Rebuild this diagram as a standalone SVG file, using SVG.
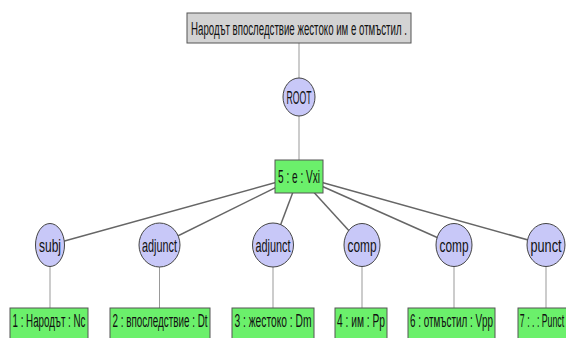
<svg xmlns="http://www.w3.org/2000/svg" width="566" height="338" viewBox="0 0 566 338">
<style>
text { font-family: "Liberation Sans", "DejaVu Sans", sans-serif; fill: #111; text-anchor: middle; font-size: 19px; }
.circ { fill: #c8c8f8; stroke: #444; stroke-width: 1; }
.word { fill: #6bf06b; stroke: #555; stroke-width: 1; }
.sent { fill: #d3d3d3; stroke: #555; stroke-width: 1; }
.dl { stroke: #666; stroke-width: 1.5; fill: none; }
.vl { stroke: #999; stroke-width: 1; fill: none; }
</style>
<rect width="566" height="338" fill="#ffffff"/>
<g id="connectors">
  <line class="vl" x1="299" y1="43" x2="299" y2="78"/>
  <line class="vl" x1="299" y1="116" x2="299" y2="160"/>
  <line class="dl" x1="299" y1="176" x2="50" y2="245"/>
  <line class="dl" x1="299" y1="176" x2="159.5" y2="245"/>
  <line class="dl" x1="299" y1="176" x2="273" y2="245"/>
  <line class="dl" x1="299" y1="176" x2="362" y2="245"/>
  <line class="dl" x1="299" y1="176" x2="454" y2="245"/>
  <line class="dl" x1="299" y1="176" x2="546" y2="245"/>
  <line class="vl" x1="50" y1="266" x2="50" y2="308"/>
  <line class="vl" x1="159.5" y1="266" x2="159.5" y2="308"/>
  <line class="vl" x1="273" y1="266" x2="273" y2="308"/>
  <line class="vl" x1="362" y1="266" x2="362" y2="308"/>
  <line class="vl" x1="454" y1="266" x2="454" y2="308"/>
  <line class="vl" x1="546" y1="266" x2="546" y2="308"/>
</g>
<g id="sentence">
  <rect class="sent" x="187" y="13" width="224" height="30"/>
  <text transform="translate(299,35) scale(0.514,1)" x="0" y="0" textLength="420" lengthAdjust="spacingAndGlyphs">Народът впоследствие жестоко им е отмъстил .</text>
</g>
<g id="root">
  <ellipse class="circ" cx="299" cy="97" rx="16" ry="19"/>
  <text transform="translate(299,103.5) scale(0.455,1)" x="0" y="0" textLength="55" lengthAdjust="spacingAndGlyphs">ROOT</text>
</g>
<g id="n5">
  <rect class="word" x="275" y="160" width="48" height="33"/>
  <text transform="translate(299,183) scale(0.53,1)" x="0" y="0" textLength="79.2" lengthAdjust="spacingAndGlyphs">5 : е : Vxi</text>
</g>
<g id="r1">
  <ellipse class="circ" cx="50" cy="245" rx="14.5" ry="21.5"/>
  <text transform="translate(50,251.5) scale(0.63,1)" x="0" y="0" textLength="34.9" lengthAdjust="spacingAndGlyphs">subj</text>
</g>
<g id="r2">
  <ellipse class="circ" cx="159.5" cy="245" rx="20.5" ry="22"/>
  <text transform="translate(159.5,251.5) scale(0.571,1)" x="0" y="0" textLength="61.3" lengthAdjust="spacingAndGlyphs">adjunct</text>
</g>
<g id="r3">
  <ellipse class="circ" cx="273" cy="245" rx="20.5" ry="22"/>
  <text transform="translate(273,251.5) scale(0.571,1)" x="0" y="0" textLength="61.3" lengthAdjust="spacingAndGlyphs">adjunct</text>
</g>
<g id="r4">
  <ellipse class="circ" cx="362" cy="245" rx="18" ry="21.5"/>
  <text transform="translate(362,251.5) scale(0.624,1)" x="0" y="0" textLength="46.5" lengthAdjust="spacingAndGlyphs">comp</text>
</g>
<g id="r6">
  <ellipse class="circ" cx="454" cy="245" rx="18" ry="21.5"/>
  <text transform="translate(454,251.5) scale(0.624,1)" x="0" y="0" textLength="46.5" lengthAdjust="spacingAndGlyphs">comp</text>
</g>
<g id="r7">
  <ellipse class="circ" cx="546" cy="245" rx="19" ry="21.5"/>
  <text transform="translate(546,251.5) scale(0.667,1)" x="0" y="0" textLength="46.5" lengthAdjust="spacingAndGlyphs">punct</text>
</g>
<g id="n1">
  <rect class="word" x="10" y="308" width="78" height="34"/>
  <text transform="translate(49,327) scale(0.512,1)" x="0" y="0" textLength="142.6" lengthAdjust="spacingAndGlyphs">1 : Народът : Nc</text>
</g>
<g id="n2">
  <rect class="word" x="110" y="308" width="100" height="34"/>
  <text transform="translate(160,327) scale(0.515,1)" x="0" y="0" textLength="184.5" lengthAdjust="spacingAndGlyphs">2 : впоследствие : Dt</text>
</g>
<g id="n3">
  <rect class="word" x="232" y="308" width="82" height="34"/>
  <text transform="translate(273,327) scale(0.536,1)" x="0" y="0" textLength="143.7" lengthAdjust="spacingAndGlyphs">3 : жестоко : Dm</text>
</g>
<g id="n4">
  <rect class="word" x="335" y="308" width="52" height="34"/>
  <text transform="translate(361,327) scale(0.544,1)" x="0" y="0" textLength="88.2" lengthAdjust="spacingAndGlyphs">4 : им : Pp</text>
</g>
<g id="n6">
  <rect class="word" x="408" y="308" width="87" height="34"/>
  <text transform="translate(451.5,327) scale(0.525,1)" x="0" y="0" textLength="158.1" lengthAdjust="spacingAndGlyphs">6 : отмъстил : Vpp</text>
</g>
<g id="n7">
  <rect class="word" x="518" y="308" width="58" height="34"/>
  <text transform="translate(542,327) scale(0.46,1)" x="0" y="0" textLength="96.2" lengthAdjust="spacingAndGlyphs">7 : . : Punct</text>
</g>
</svg>
